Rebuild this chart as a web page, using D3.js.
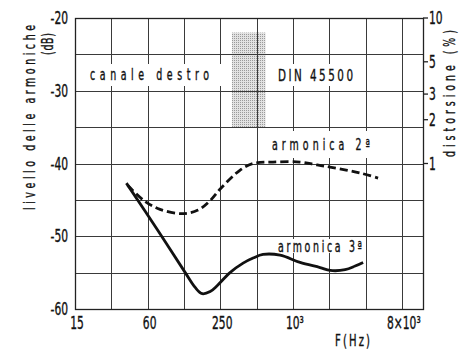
<!DOCTYPE html>
<html>
<head>
<meta charset="utf-8">
<script src="https://cdn.jsdelivr.net/npm/d3@7"></script>
<style>
  body { margin: 0; background: #fff; }
  svg { display: block; }
  text { font-family: "DejaVu Sans Condensed", "DejaVu Sans", sans-serif; font-stretch: condensed; fill: #111; stroke: #111; stroke-width: 0.35; }
</style>
</head>
<body>
<svg id="chart" width="471" height="350"></svg>
<script>
const width = 471;
const height = 350;

// grid frequencies (octaves from 15 Hz) and the labels printed under some of them
const gridFreqs = [15, 30, 60, 120, 240, 480, 960, 1920, 3840, 7680];
const xTickFreqs = [15, 60, 240, 960, 7680];
const xTickLabels = ["15", "60", "250", "10³", "8×10³"];

const dbGrid = [-20, -25, -30, -35, -40, -45, -50, -55, -60];
const dbTicks = [-20, -30, -40, -50, -60];
const dbTickLabels = ["-20", "-30", "-40", "-50", "-60"];

const pctTicks = [10, 5, 3, 2, 1];
const pctTickLabels = ["10", "5", "3", "2", "1"];

// armonica 2a (dashed)
const freqH2 = [41, 57, 76, 116, 157, 198, 243, 351, 449, 657, 1100, 1524, 1950, 3450, 4880];
const dbH2 = [-43.0, -45.2, -46.3, -46.9, -46.4, -45.1, -43.4, -40.9, -40.0, -39.8, -39.8, -40.2, -40.5, -41.3, -42.0];

// armonica 3a (solid)
const freqH3 = [40, 73, 123, 148, 170, 198, 226, 289, 371, 449, 543, 752, 1101, 1614, 1953, 2601, 3148, 3667];
const dbH3 = [-42.7, -49.2, -55.0, -57.0, -57.9, -57.6, -56.8, -55.0, -53.7, -53.0, -52.5, -52.6, -53.6, -54.3, -54.7, -54.6, -54.1, -53.6];

// DIN 45500 tolerance zone
const dinFreq = [300, 570];
const dinDb = [-22, -35];

const svg = d3.select("svg#chart");

const x = d3.scaleLog().base(2).domain([15, 11500]).range([75, 423]);
const y = d3.scaleLinear().domain([-60, -20]).range([309, 18]);
const pctToDb = p => 20 * Math.log10(p / 100);

// narrow lettering like the original print: squeeze glyphs horizontally
const SX = 0.7;
function addText(px, py, str, o = {}) {
  const rot = o.rot || 0;
  const t = svg.append("text")
    .attr("transform", `translate(${px},${py}) rotate(${rot}) scale(${SX},1)`)
    .attr("text-anchor", o.anchor || "start")
    .attr("font-size", o.size || 15)
    .text(str);
  if (o.span) t.attr("textLength", o.span / SX).attr("lengthAdjust", "spacing");
  return t;
}

// stippled fill for the DIN zone
const defs = svg.append("defs");
const pat = defs.append("pattern")
  .attr("id", "stipple")
  .attr("width", 2).attr("height", 2)
  .attr("patternUnits", "userSpaceOnUse");
pat.append("rect").attr("width", 2).attr("height", 2).attr("fill", "#e2e2e2");
pat.append("rect").attr("width", 1).attr("height", 1).attr("fill", "#9a9a9a");

svg.append("rect")
  .attr("x", x(dinFreq[0]))
  .attr("y", y(dinDb[0]))
  .attr("width", x(dinFreq[1]) - x(dinFreq[0]))
  .attr("height", y(dinDb[1]) - y(dinDb[0]))
  .attr("fill", "url(#stipple)");

// grid
const grid = svg.append("g").attr("stroke", "#3a3a3a").attr("stroke-width", 1);
grid.selectAll("line.v")
  .data(gridFreqs)
  .join("line")
  .attr("class", "v")
  .attr("x1", d => Math.round(x(d)) + 0.5)
  .attr("x2", d => Math.round(x(d)) + 0.5)
  .attr("y1", y(-20))
  .attr("y2", y(-60));
grid.selectAll("line.h")
  .data(dbGrid)
  .join("line")
  .attr("class", "h")
  .attr("x1", x.range()[0])
  .attr("x2", x.range()[1])
  .attr("y1", d => Math.round(y(d)) + 0.5)
  .attr("y2", d => Math.round(y(d)) + 0.5);

svg.append("rect")
  .attr("x", x.range()[0] + 0.5)
  .attr("y", y(-20) + 0.5)
  .attr("width", x.range()[1] - x.range()[0])
  .attr("height", y(-60) - y(-20))
  .attr("fill", "none")
  .attr("stroke", "#222")
  .attr("stroke-width", 1.3);

// white boxes behind the in-plot labels
const boxes = [
  { x0: 80, x1: 226, y0: 64, y1: 86 },
  { x0: 270, x1: 362, y0: 64, y1: 86 },
  { x0: 268, x1: 372, y0: 131, y1: 158 },
  { x0: 274, x1: 366, y0: 239, y1: 253 }
];
svg.append("g").selectAll("rect")
  .data(boxes)
  .join("rect")
  .attr("x", d => d.x0).attr("y", d => d.y0)
  .attr("width", d => d.x1 - d.x0).attr("height", d => d.y1 - d.y0)
  .attr("fill", "#fff");

// curves
const line = d3.line()
  .x(d => x(d[0]))
  .y(d => y(d[1]))
  .curve(d3.curveCatmullRom.alpha(0.5));

svg.append("path")
  .datum(d3.zip(freqH2, dbH2))
  .attr("d", line)
  .attr("fill", "none")
  .attr("stroke", "#111")
  .attr("stroke-width", 2.8)
  .attr("stroke-dasharray", "8,4");

svg.append("path")
  .datum(d3.zip(freqH3, dbH3))
  .attr("d", line)
  .attr("fill", "none")
  .attr("stroke", "#111")
  .attr("stroke-width", 2.8);

// left axis labels (dB)
dbTicks.forEach((d, i) => {
  addText(68, y(d) + 6, dbTickLabels[i], { size: 17, anchor: "end" });
});

// right axis: distortion in %, short ticks outside the frame
const yPct = d3.scaleLog().domain([1, 10]).range([y(pctToDb(1)), y(pctToDb(10))]);
svg.append("g").selectAll("line")
  .data(pctTicks)
  .join("line")
  .attr("x1", x.range()[1]).attr("x2", x.range()[1] + 5)
  .attr("y1", d => yPct(d)).attr("y2", d => yPct(d))
  .attr("stroke", "#222").attr("stroke-width", 1.3);
pctTicks.forEach((d, i) => {
  addText(429, yPct(d) + 6, pctTickLabels[i], { size: 17 });
});

// bottom labels
xTickFreqs.forEach((d, i) => {
  addText(x(d) + 2, 329, xTickLabels[i], { size: 17, anchor: "middle" });
});
addText(335, 346, "F(Hz)", { size: 16, span: 35 });

// axis titles
addText(35, 210, "livello delle armoniche", { size: 15, rot: -90, span: 185 });
addText(53, 55, "(dB)", { size: 15, rot: -90, span: 22 });
addText(455, 157, "distorsione (%)", { size: 15, rot: -90, span: 127 });

// in-plot labels
addText(90, 80, "canale destro", { size: 15, span: 119 });
addText(278, 81, "DIN 45500", { size: 16.5, span: 75 });
addText(272, 150, "armonica 2ª", { size: 15, span: 98 });
addText(278, 252, "armonica 3ª", { size: 15, span: 84 });
</script>
</body>
</html>
